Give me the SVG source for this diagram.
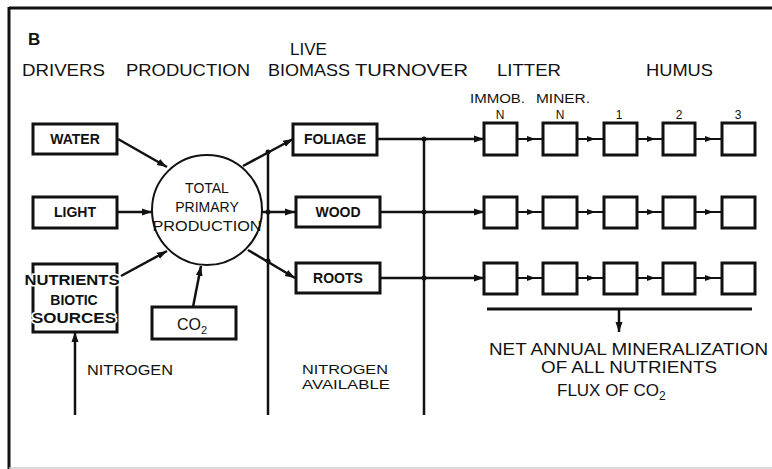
<svg xmlns="http://www.w3.org/2000/svg" width="772" height="469" viewBox="0 0 772 469">
<defs>
<style>
text{font-family:"Liberation Sans",Arial,sans-serif;fill:#111}
.hd{font-size:17px}
.lb{font-size:14px;font-weight:bold;text-anchor:middle}
.sm{font-size:12px;text-anchor:middle}
.bx{fill:#fff;stroke:#111;stroke-width:3}
.ln{fill:none;stroke:#111;stroke-width:2.5}
.ch{fill:none;stroke:#111;stroke-width:2;marker-mid:url(#ah)}
.halo{stroke:#fff;stroke-width:3;paint-order:stroke}
</style>
<marker id="ah" viewBox="0 0 10 10" refX="5" refY="5" markerWidth="9" markerHeight="9" markerUnits="userSpaceOnUse" orient="auto"><path d="M0,1.5 L10,5 L0,8.5 Z" fill="#111"/></marker>
<marker id="ae" viewBox="0 0 10 10" refX="10" refY="5" markerWidth="10" markerHeight="10" markerUnits="userSpaceOnUse" orient="auto"><path d="M0,1.5 L10,5 L0,8.5 Z" fill="#111"/></marker>
</defs>
<rect width="772" height="469" fill="#fff"/>
<g id="frame">
<line x1="9" y1="8" x2="772" y2="8" stroke="#111" stroke-width="3"/>
<line x1="9" y1="7" x2="9" y2="469" stroke="#111" stroke-width="3"/>
<line x1="9" y1="468" x2="772" y2="468" stroke="#ccc" stroke-width="1.5"/>
</g>
<g id="headers">
<text x="28" y="45" style="font-size:17px;font-weight:bold">B</text>
<text class="hd" x="22" y="76" textLength="83" lengthAdjust="spacingAndGlyphs">DRIVERS</text>
<text class="hd" x="126" y="76" textLength="124" lengthAdjust="spacingAndGlyphs">PRODUCTION</text>
<text class="hd" x="290" y="55" textLength="37" lengthAdjust="spacingAndGlyphs">LIVE</text>
<text class="hd" x="268" y="76" textLength="82" lengthAdjust="spacingAndGlyphs">BIOMASS</text>
<text class="hd" x="355" y="76" textLength="113" lengthAdjust="spacingAndGlyphs">TURNOVER</text>
<text class="hd" x="497" y="76" textLength="64" lengthAdjust="spacingAndGlyphs">LITTER</text>
<text class="hd" x="646" y="76" textLength="67" lengthAdjust="spacingAndGlyphs">HUMUS</text>
<text x="470" y="103" style="font-size:12px" textLength="55" lengthAdjust="spacingAndGlyphs">IMMOB.</text>
<text x="536" y="103" style="font-size:12px" textLength="54" lengthAdjust="spacingAndGlyphs">MINER.</text>
<text class="sm" x="500" y="119">N</text>
<text class="sm" x="560" y="119">N</text>
<text class="sm" x="619" y="119">1</text>
<text class="sm" x="679" y="119">2</text>
<text class="sm" x="738" y="119">3</text>
</g>
<g id="connectors">
<line class="ln" x1="118" y1="139" x2="167" y2="167" marker-end="url(#ae)"/>
<line class="ln" x1="117" y1="212" x2="152" y2="212" marker-end="url(#ae)"/>
<line class="ln" x1="121" y1="276" x2="167" y2="251" marker-end="url(#ae)"/>
<line class="ln" x1="193" y1="307" x2="201" y2="266" marker-end="url(#ae)"/>
<line class="ln" x1="243" y1="166" x2="293" y2="139" marker-end="url(#ae)"/>
<line class="ln" x1="262" y1="212" x2="295" y2="212" marker-end="url(#ae)"/>
<line class="ln" x1="248" y1="250" x2="295" y2="278" marker-end="url(#ae)"/>
<line class="ln" x1="268" y1="152" x2="268" y2="415"/>
<circle cx="268" cy="152" r="2.5" fill="#111"/>
<circle cx="268" cy="212" r="2.5" fill="#111"/>
<circle cx="268" cy="261" r="2.5" fill="#111"/>
<line class="ln" x1="424" y1="139" x2="424" y2="415"/>
<line class="ln" x1="377" y1="139" x2="484" y2="139" marker-end="url(#ae)"/>
<line class="ln" x1="380" y1="212" x2="484" y2="212" marker-end="url(#ae)"/>
<line class="ln" x1="380" y1="278" x2="484" y2="278" marker-end="url(#ae)"/>
<circle cx="424" cy="139" r="2.5" fill="#111"/>
<circle cx="424" cy="212" r="2.5" fill="#111"/>
<circle cx="424" cy="278" r="2.5" fill="#111"/>
<polyline class="ch" points="517,139 531,139 543,139"/>
<polyline class="ch" points="577,139 591,139 604,139"/>
<polyline class="ch" points="637,139 651,139 663,139"/>
<polyline class="ch" points="695,139 709,139 722,139"/>
<polyline class="ch" points="517,212 531,212 543,212"/>
<polyline class="ch" points="577,212 591,212 604,212"/>
<polyline class="ch" points="637,212 651,212 663,212"/>
<polyline class="ch" points="695,212 709,212 722,212"/>
<polyline class="ch" points="517,278 531,278 543,278"/>
<polyline class="ch" points="577,278 591,278 604,278"/>
<polyline class="ch" points="637,278 651,278 663,278"/>
<polyline class="ch" points="695,278 709,278 722,278"/>
<line x1="487" y1="309" x2="752" y2="309" stroke="#111" stroke-width="3"/>
<line class="ln" x1="619" y1="309" x2="619" y2="332" marker-end="url(#ae)"/>
<line class="ln" x1="75" y1="415" x2="75" y2="332" marker-end="url(#ae)"/>
</g>
<g id="water"><rect class="bx" x="33" y="124" width="84" height="30"/><text class="lb" x="75" y="144">WATER</text></g>
<g id="light"><rect class="bx" x="33" y="197" width="84" height="31"/><text class="lb" x="75" y="217">LIGHT</text></g>
<g id="nutrients"><rect class="bx" x="33" y="264" width="84" height="68"/>
<text class="lb halo" x="72" y="285" textLength="95" lengthAdjust="spacingAndGlyphs">NUTRIENTS</text>
<text class="lb" x="74" y="305">BIOTIC</text>
<text class="lb halo" x="74" y="323" textLength="84" lengthAdjust="spacingAndGlyphs">SOURCES</text></g>
<g id="co2"><rect class="bx" x="152" y="307" width="84" height="32"/><text x="177" y="330" style="font-size:16px">CO<tspan dy="4" style="font-size:11px">2</tspan></text></g>
<g id="tpp"><circle cx="207" cy="210" r="55" fill="#fff" stroke="#111" stroke-width="2"/>
<text x="207" y="193" style="font-size:14px;text-anchor:middle">TOTAL</text>
<text x="207" y="212" style="font-size:14px;text-anchor:middle">PRIMARY</text>
<text x="207" y="231" style="font-size:14px;text-anchor:middle" textLength="109" lengthAdjust="spacingAndGlyphs">PRODUCTION</text></g>
<g id="foliage"><rect class="bx" x="293" y="124" width="84" height="31"/><text class="lb" x="335" y="144">FOLIAGE</text></g>
<g id="wood"><rect class="bx" x="296" y="197" width="84" height="30"/><text class="lb" x="338" y="217">WOOD</text></g>
<g id="roots"><rect class="bx" x="296" y="263" width="84" height="30"/><text class="lb" x="338" y="283">ROOTS</text></g>
<g id="compartments">
<rect class="bx" x="484" y="123" width="33" height="32"/><rect class="bx" x="543" y="123" width="34" height="32"/><rect class="bx" x="604" y="123" width="33" height="32"/><rect class="bx" x="663" y="123" width="32" height="32"/><rect class="bx" x="722" y="123" width="33" height="32"/>
<rect class="bx" x="484" y="197" width="33" height="31"/><rect class="bx" x="543" y="197" width="34" height="31"/><rect class="bx" x="604" y="197" width="33" height="31"/><rect class="bx" x="663" y="197" width="32" height="31"/><rect class="bx" x="722" y="197" width="33" height="31"/>
<rect class="bx" x="484" y="263" width="33" height="31"/><rect class="bx" x="543" y="263" width="34" height="31"/><rect class="bx" x="604" y="263" width="33" height="31"/><rect class="bx" x="663" y="263" width="32" height="31"/><rect class="bx" x="722" y="263" width="33" height="31"/>
</g>
<g id="labels">
<text x="87" y="375" style="font-size:14px" textLength="86" lengthAdjust="spacingAndGlyphs">NITROGEN</text>
<text x="302" y="374" style="font-size:13px" textLength="86" lengthAdjust="spacingAndGlyphs">NITROGEN</text>
<text x="302" y="389" style="font-size:13px" textLength="88" lengthAdjust="spacingAndGlyphs">AVAILABLE</text>
<text x="489" y="355" style="font-size:17px" textLength="279" lengthAdjust="spacingAndGlyphs">NET ANNUAL MINERALIZATION</text>
<text x="541" y="373" style="font-size:17px" textLength="176" lengthAdjust="spacingAndGlyphs">OF ALL NUTRIENTS</text>
<text x="557" y="396" style="font-size:17px">FLUX OF CO<tspan dy="4" style="font-size:12px">2</tspan></text>
</g>
</svg>
